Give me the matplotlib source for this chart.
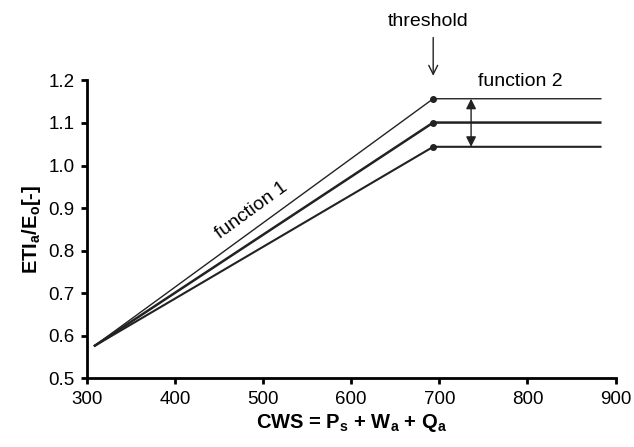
import matplotlib
matplotlib.use("Agg")
import matplotlib.pyplot as plt

plt.rcParams["font.family"] = ["Liberation Sans", "DejaVu Sans"]
plt.rcParams["mathtext.default"] = "regular"

# ---------- DATA ----------
x_start = 308
x_thr = 693
x_end = 884
y_start = 0.575
y_thr = [1.157, 1.101, 1.044]      # top, middle, bottom line at threshold
line_widths = [1.0, 1.8, 1.5]
arrow_x = 736

xticks = [300, 400, 500, 600, 700, 800, 900]
yticks = [0.5, 0.6, 0.7, 0.8, 0.9, 1.0, 1.1, 1.2]

fig = plt.figure(figsize=(6.34, 4.47), dpi=100)
ax = fig.add_axes([0.137, 0.154, 0.834, 0.666])

col = "#222222"
for yt, lw in zip(y_thr, line_widths):
    ax.plot([x_start, x_thr, x_end], [y_start, yt, yt], color=col, lw=lw,
            solid_capstyle="butt", clip_on=False)
    ax.plot([x_thr], [yt], "o", color=col, ms=4, clip_on=False)

# double arrow between top and bottom
ax.annotate("", xy=(arrow_x, y_thr[2]), xytext=(arrow_x, y_thr[0]),
            arrowprops=dict(arrowstyle="<|-|>", color=col, lw=1.0,
                            mutation_scale=15, shrinkA=0, shrinkB=0),
            annotation_clip=False)

# threshold arrow
ax.annotate("", xy=(x_thr, 1.211), xytext=(x_thr, 1.301),
            arrowprops=dict(arrowstyle="->", color=col, lw=1.0,
                            mutation_scale=16, shrinkA=0, shrinkB=0),
            annotation_clip=False)
ax.text(x_thr - 6, 1.338, "threshold", ha="center", va="center", fontsize=14)
ax.text(792, 1.197, "function 2", ha="center", va="center", fontsize=14)
ax.text(487, 0.894, "function 1", ha="center", va="center", fontsize=14,
        rotation=36)

ax.set_xlim(300, 900)
ax.set_ylim(0.5, 1.2)
ax.set_xticks(xticks)
ax.set_yticks(yticks)
ax.set_yticklabels([f"{v:.1f}" for v in yticks])
ax.tick_params(direction="out", length=4, width=2, labelsize=13.5, pad=5)

for s in ["top", "right"]:
    ax.spines[s].set_visible(False)
for s in ["left", "bottom"]:
    ax.spines[s].set_linewidth(2)

ax.set_xlabel("CWS = P$_s$ + W$_a$ + Q$_a$", fontsize=14.5, fontweight="bold",
              labelpad=3)
ax.set_ylabel("ETI$_a$/E$_o$[-]", fontsize=14.5, fontweight="bold", labelpad=4)

fig.savefig("out.png", dpi=100)
